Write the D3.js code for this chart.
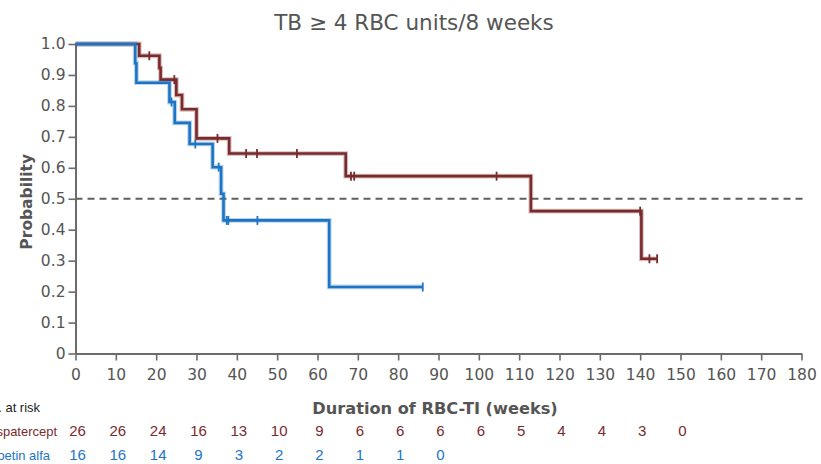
<!DOCTYPE html>
<html>
<head>
<meta charset="utf-8">
<script src="https://cdn.jsdelivr.net/npm/d3@7"></script>
<style>
  body { margin: 0; background: #fff; }
  svg { display: block; }
</style>
</head>
<body>
<svg id="chart" width="821" height="464"></svg>
<script>
// Axis ticks
const weekTicks = [0, 10, 20, 30, 40, 50, 60, 70, 80, 90, 100, 110, 120, 130, 140, 150, 160, 170, 180];
const probTicks = [0, 0.1, 0.2, 0.3, 0.4, 0.5, 0.6, 0.7, 0.8, 0.9, 1.0];

// Luspatercept: Kaplan-Meier steps (week, probability) and censored times
const lusTimes  = [0, 15.8, 20.8, 21.1, 25.0, 26.4, 30.0, 38.1, 67.0, 112.9, 140.3, 144.2];
const lusSurv   = [1.0, 0.962, 0.923, 0.885, 0.835, 0.789, 0.695, 0.646, 0.573, 0.46, 0.306, 0.306];
const lusCensor = [18.3, 24.5, 35.2, 42.3, 45.0, 54.9, 68.3, 69.1, 104.4, 140.0, 142.3, 144.2];

// Epoetin alfa
const epoTimes  = [0, 14.8, 15.1, 23.3, 24.6, 28.3, 34.0, 36.1, 36.7, 62.9, 86.1];
const epoSurv   = [1.0, 0.938, 0.875, 0.8125, 0.745, 0.677, 0.602, 0.516, 0.43, 0.215, 0.215];
const epoCensor = [23.8, 29.7, 35.5, 37.5, 37.9, 45.1, 86.1];

// Number at risk table
const riskTimes = [0, 10, 20, 30, 40, 50, 60, 70, 80, 90, 100, 110, 120, 130, 140, 150];
const lusRisk = [26, 26, 24, 16, 13, 10, 9, 6, 6, 6, 6, 5, 4, 4, 3, 0];
const epoRisk = [16, 16, 14, 9, 3, 2, 2, 1, 1, 0];

const series = [
  { name: "Luspatercept", labelEnd: 57, times: lusTimes, surv: lusSurv, censor: lusCensor, risk: lusRisk, color: "#7b2a2c" },
  { name: "Epoetin alfa", labelEnd: 50, times: epoTimes, surv: epoSurv, censor: epoCensor, risk: epoRisk, color: "#1d74c4" }
];

const svg = d3.select("#chart");
const x = d3.scaleLinear().domain([0, 180]).range([75.5, 801.5]);
const y = d3.scaleLinear().domain([0, 1]).range([353.5, 44]);

const axisColor = "#6b6b6b";
const textColor = "#555";
const tickFont = "DejaVu Sans, Verdana, sans-serif";

// Title
svg.append("text")
  .attr("x", 414).attr("y", 30)
  .attr("text-anchor", "middle")
  .attr("font-family", tickFont)
  .attr("font-size", 21.5)
  .attr("fill", textColor)
  .text("TB \u2265 4 RBC units/8 weeks");

// Median reference line
svg.append("line")
  .attr("x1", x(0)).attr("x2", x(180) + 2)
  .attr("y1", y(0.5)).attr("y2", y(0.5))
  .attr("stroke", "#606060").attr("stroke-width", 2)
  .attr("stroke-dasharray", "7,5");

// Y axis
const yAxis = svg.append("g")
  .attr("transform", `translate(${x(0)},0)`)
  .call(d3.axisLeft(y).tickValues(probTicks).tickSize(7).tickSizeOuter(0)
    .tickFormat(d => d === 0 ? "0" : d3.format(".1f")(d)));

// X axis
const xAxis = svg.append("g")
  .attr("transform", `translate(0,${y(0)})`)
  .call(d3.axisBottom(x).tickValues(weekTicks).tickSize(7).tickSizeOuter(0).tickPadding(8));

[yAxis, xAxis].forEach(g => {
  g.select(".domain").attr("stroke", axisColor).attr("stroke-width", 2);
  g.selectAll(".tick line").attr("stroke", axisColor).attr("stroke-width", 1.6);
  g.selectAll(".tick text")
    .attr("fill", textColor)
    .attr("font-family", tickFont)
    .attr("font-size", 15.5);
});
yAxis.selectAll(".tick text").attr("x", -10);

// Axis titles
svg.append("text")
  .attr("transform", `translate(32,${(y(0) + y(1)) / 2 + 3}) rotate(-90)`)
  .attr("text-anchor", "middle")
  .attr("font-family", tickFont)
  .attr("font-weight", "bold")
  .attr("font-size", 15.5)
  .attr("fill", textColor)
  .text("Probability");

svg.append("text")
  .attr("x", 435).attr("y", 414)
  .attr("text-anchor", "middle")
  .attr("font-family", tickFont)
  .attr("font-weight", "bold")
  .attr("font-size", 16.2)
  .attr("fill", textColor)
  .text("Duration of RBC-TI (weeks)");

// Survival curves
const line = d3.line()
  .x(d => x(d[0]))
  .y(d => y(d[1]))
  .curve(d3.curveStepAfter);

const survAt = (s, t) => s.surv[d3.bisectRight(s.times, t) - 1];

series.forEach(s => {
  const pts = s.times.map((t, i) => [t, s.surv[i]]);
  // soft halo under the line
  svg.append("path")
    .datum(pts)
    .attr("d", line)
    .attr("fill", "none")
    .attr("stroke", s.color)
    .attr("stroke-opacity", 0.3)
    .attr("stroke-width", 4.8)
    .attr("stroke-linejoin", "miter");
  svg.append("path")
    .datum(pts)
    .attr("d", line)
    .attr("fill", "none")
    .attr("stroke", s.color)
    .attr("stroke-width", 2.6)
    .attr("stroke-linejoin", "miter");

  svg.append("g").selectAll("line")
    .data(s.censor)
    .join("line")
    .attr("x1", d => x(d)).attr("x2", d => x(d))
    .attr("y1", d => y(survAt(s, d)) - 4.5)
    .attr("y2", d => y(survAt(s, d)) + 4.5)
    .attr("stroke", s.color)
    .attr("stroke-width", 1.8);
});

// Number at risk table
const tableFont = "Liberation Sans, Arial, sans-serif";
const rowY = [412, 436, 460];

// Row labels use a slightly condensed face, ending at a fixed x
function rowLabel(text, endX, yPos, color) {
  const t = svg.append("text")
    .attr("y", yPos)
    .attr("font-family", tableFont)
    .attr("font-size", 13.5)
    .attr("fill", color)
    .text(text);
  const w = t.node().getComputedTextLength() * 0.96;
  t.attr("x", endX - w)
    .attr("textLength", w)
    .attr("lengthAdjust", "spacingAndGlyphs");
}

rowLabel("No. at risk", 40, rowY[0], "#222");

series.forEach((s, i) => {
  rowLabel(s.name, s.labelEnd, rowY[i + 1], s.color);

  svg.append("g").selectAll("text")
    .data(s.risk)
    .join("text")
    .attr("x", (d, j) => x(riskTimes[j]) + 2)
    .attr("y", rowY[i + 1])
    .attr("text-anchor", "middle")
    .attr("font-family", tableFont)
    .attr("font-size", 15)
    .attr("fill", s.color)
    .text(d => d);
});
</script>
</body>
</html>
